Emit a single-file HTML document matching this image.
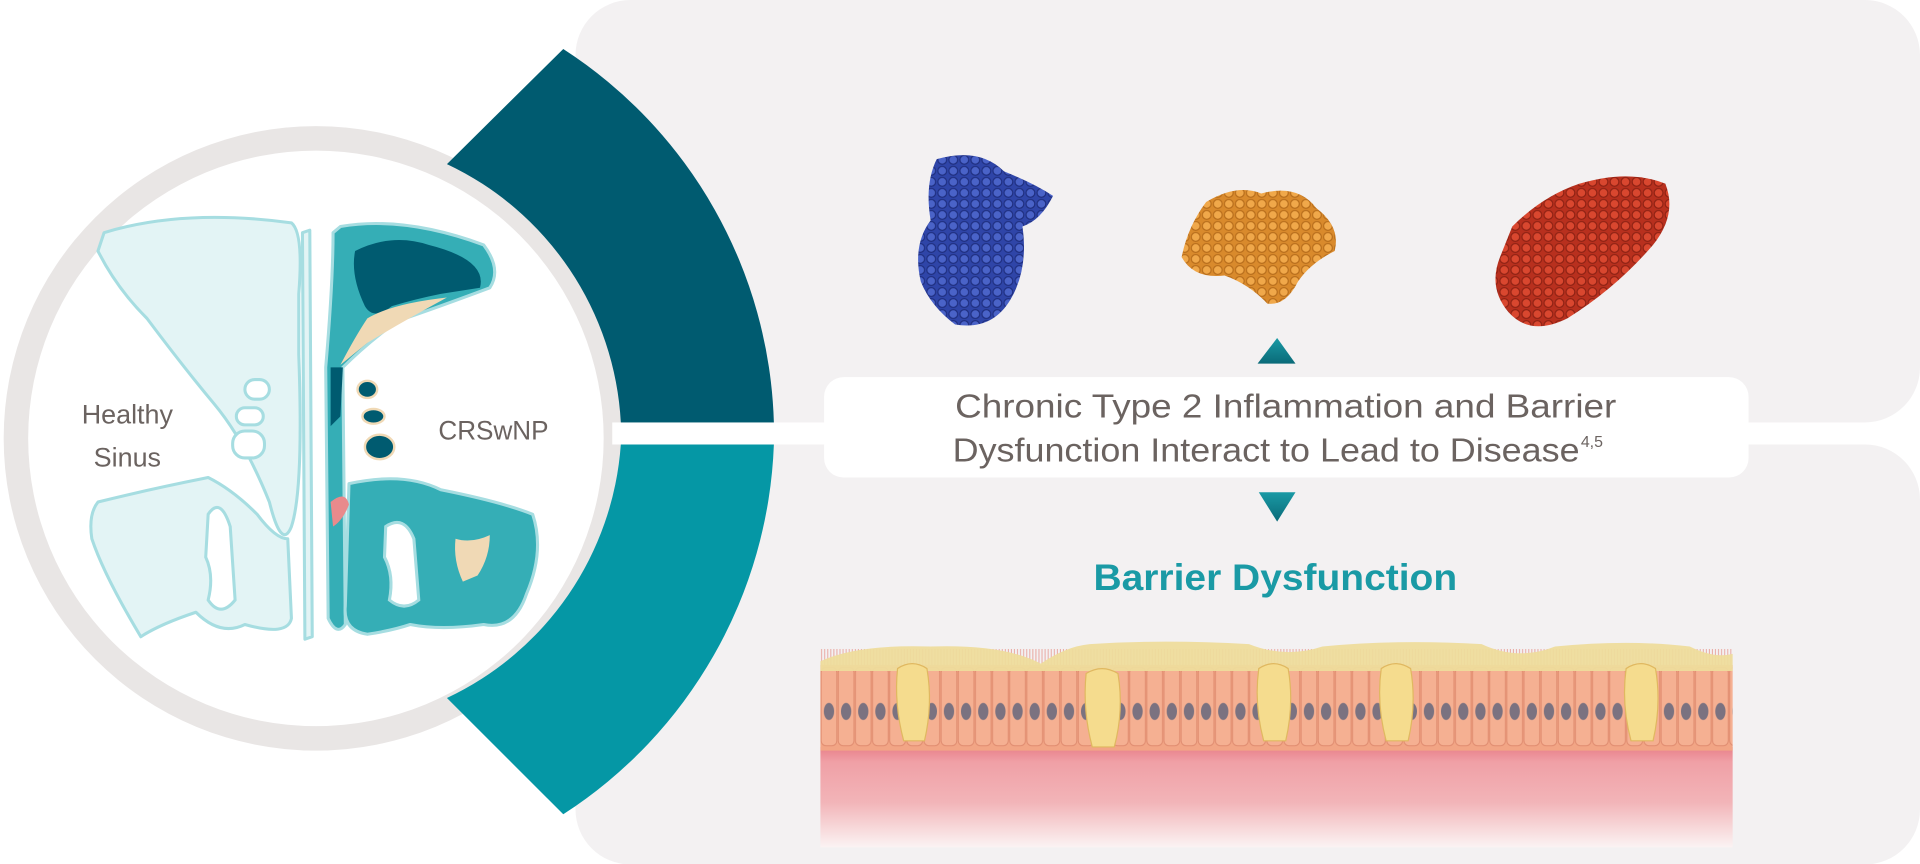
<!DOCTYPE html>
<html><head><meta charset="utf-8"><style>
html,body{margin:0;padding:0;background:#fff;width:1920px;height:864px;overflow:hidden}
svg{display:block}
text{font-family:"Liberation Sans",sans-serif}
</style></head><body>
<svg width="1920" height="864" viewBox="0 0 1568 705.6" xmlns="http://www.w3.org/2000/svg">
<defs>
<pattern id="pb" width="9" height="9" patternUnits="userSpaceOnUse"><rect width="9" height="9" fill="#2f45a8"/><circle cx="4.5" cy="4.5" r="3.6" fill="#4a63c8" stroke="#1f2f80" stroke-width="1"/></pattern>
<pattern id="po" width="9" height="9" patternUnits="userSpaceOnUse"><rect width="9" height="9" fill="#d98a2c"/><circle cx="4.5" cy="4.5" r="3.6" fill="#f0a84a" stroke="#b86e1c" stroke-width="1"/></pattern>
<pattern id="pr" width="9" height="9" patternUnits="userSpaceOnUse"><rect width="9" height="9" fill="#b8301e"/><circle cx="4.5" cy="4.5" r="3.6" fill="#d9472f" stroke="#8f2214" stroke-width="1"/></pattern>
<pattern id="cells" x="670" y="543" width="14" height="70" patternUnits="userSpaceOnUse"><rect width="14" height="70" fill="#f2a585"/><rect x="0.6" y="2" width="12.8" height="64" rx="4" fill="#f5b092" stroke="#e08c70" stroke-width="0.8"/><ellipse cx="7" cy="38" rx="4.2" ry="7" fill="#7b7280"/></pattern>
<pattern id="cil" width="2.5" height="10" patternUnits="userSpaceOnUse"><line x1="1" y1="0" x2="1" y2="10" stroke="#e9a7a0" stroke-width="0.8"/></pattern>
<linearGradient id="lp" x1="0" y1="0" x2="0" y2="1"><stop offset="0" stop-color="#e8808a"/><stop offset="0.15" stop-color="#f0a0a6"/><stop offset="0.55" stop-color="#f2b4b8"/><stop offset="1" stop-color="#fbf3f3"/></linearGradient>
<linearGradient id="tri" x1="0" y1="0" x2="0" y2="1"><stop offset="0" stop-color="#1a9aa5"/><stop offset="1" stop-color="#0a6a78"/></linearGradient>
</defs>
<rect x="470" y="0" width="1098" height="345" rx="45" fill="#f3f1f2"/>
<rect x="470" y="363" width="1098" height="343" rx="45" fill="#f3f1f2"/>
<circle cx="258" cy="358" r="255" fill="#e9e6e5"/>
<circle cx="258" cy="358" r="235" fill="#fff"/>
<path d="M460,40 A376,376 0 0 1 632,345 L507,345 A248,248 0 0 0 365,134 Z" fill="#005b70"/>
<path d="M632,363 A376,376 0 0 1 460,665 L365,570 A248,248 0 0 0 507,363 Z" fill="#0597a5"/>
<rect x="500" y="345" width="1068" height="18" fill="#fff"/>
<g fill="#e3f4f5" stroke="#a6dde1" stroke-width="2.5" stroke-linejoin="round">
<path d="M85,190 Q150,170 238,182 Q248,190 244,240 L244,290 Q248,400 238,430 Q230,450 220,410 Q200,360 175,330 Q150,300 120,260 Q95,235 80,205 Z"/>
<path d="M80,410 Q120,400 170,390 Q190,400 210,420 Q225,440 235,440 L238,505 Q235,520 200,510 Q180,520 160,500 Q130,510 115,520 Q85,470 75,440 Q72,420 80,410 Z"/>
<path d="M247,190 L253,188 L255,520 L249,522 Z"/>
</g>
<g fill="#fff" stroke="#a6dde1" stroke-width="2.5">
<path d="M170,420 Q180,405 188,430 L192,490 Q180,505 170,490 Q175,470 168,455 Z"/>
<rect x="200" y="310" width="20" height="16" rx="8"/>
<rect x="193" y="333" width="22" height="14" rx="7"/>
<rect x="190" y="352" width="26" height="22" rx="10"/>
</g>
<g stroke="#a6dde1" stroke-width="2.5" stroke-linejoin="round">
<path d="M278,185 Q330,176 395,200 Q410,220 400,235 Q360,250 325,262 Q300,280 280,300 L282,510 Q275,520 268,505 L266,300 Q272,230 272,190 Z" fill="#35aeb6"/>
<path d="M285,395 Q330,385 360,400 Q410,410 435,420 Q445,450 430,485 Q420,515 395,510 Q360,515 335,510 Q320,515 300,518 Q280,515 282,495 Z" fill="#35aeb6"/>
</g>
<path d="M290,205 Q320,190 350,200 Q398,212 392,235 L360,240 Q340,244 320,250 Q305,262 298,250 Q286,225 290,205 Z" fill="#005b70"/>
<path d="M300,260 Q320,248 365,243 Q330,262 300,280 L278,298 Q290,275 300,260 Z" fill="#f0d9b5"/>
<path d="M270,300 L280,300 L278,340 L270,348 Z" fill="#005b70"/>
<path d="M270,410 Q282,400 285,412 Q280,425 272,430 Z" fill="#e98a8c"/>
<path d="M372,440 Q385,444 400,437 Q400,455 390,470 L378,475 Q370,458 372,440 Z" fill="#f0d9b5"/>
<g fill="#fff" stroke="#a6dde1" stroke-width="2.5">
<path d="M315,430 Q330,420 338,440 L342,490 Q330,500 318,490 Q322,470 314,455 Z"/>
</g>
<g stroke="#f0d9b5" stroke-width="2">
<ellipse cx="300" cy="318" rx="8" ry="7" fill="#005b70"/>
<ellipse cx="305" cy="340" rx="9" ry="6" fill="#005b70"/>
<ellipse cx="310" cy="365" rx="12" ry="10" fill="#005b70"/>
</g>
<text x="104" y="346" font-size="22" fill="#6b6360" text-anchor="middle">Healthy</text>
<text x="104" y="381" font-size="22" fill="#6b6360" text-anchor="middle">Sinus</text>
<text x="358" y="359" font-size="22" fill="#6b6360" textLength="90" lengthAdjust="spacingAndGlyphs">CRSwNP</text>
<path d="M765,130 Q800,120 820,140 Q845,150 860,160 Q850,180 835,185 Q840,220 825,245 Q810,270 780,265 Q760,250 752,230 Q745,200 760,180 Q755,150 765,130 Z" fill="url(#pb)"/>
<path d="M985,165 Q1010,150 1030,158 Q1060,150 1075,170 Q1095,185 1090,205 Q1070,215 1060,230 Q1050,250 1035,248 Q1020,232 1000,225 Q975,228 965,210 Q970,185 985,165 Z" fill="url(#po)"/>
<path d="M1235,185 Q1260,160 1290,150 Q1330,138 1360,150 Q1370,175 1350,200 Q1320,235 1280,260 Q1250,275 1232,255 Q1215,235 1225,210 Z" fill="url(#pr)"/>
<path d="M1043,276 L1058,297 L1027,297 Z" fill="url(#tri)"/>
<path d="M1028,402 L1058,402 L1043,426 Z" fill="url(#tri)"/>
<rect x="673" y="308" width="755" height="82" rx="16" fill="#fff"/>
<text x="780" y="341" font-size="27" fill="#6b6360" textLength="540" lengthAdjust="spacingAndGlyphs">Chronic Type 2 Inflammation and Barrier</text>
<text x="778" y="377" font-size="27" fill="#6b6360" textLength="512" lengthAdjust="spacingAndGlyphs">Dysfunction Interact to Lead to Disease</text>
<text x="1291" y="365" font-size="13" fill="#6b6360">4,5</text>
<text x="893" y="482" font-size="30" font-weight="bold" fill="#1a9aa5" textLength="297" lengthAdjust="spacingAndGlyphs">Barrier Dysfunction</text>
<rect x="670" y="610" width="745" height="82" fill="url(#lp)"/>
<rect x="670" y="543" width="745" height="70" fill="url(#cells)"/>
<rect x="670" y="530" width="745" height="14" fill="url(#cil)"/>
<path d="M670,540 Q700,526 760,528 Q820,526 850,542 Q870,528 890,526 Q950,522 1020,526 Q1050,538 1080,528 Q1140,522 1210,526 Q1240,540 1270,528 Q1330,522 1380,528 Q1400,538 1415,534 L1415,548 L670,548 Z" fill="#eedc9c" opacity="0.95"/>
<g fill="#f5dc8e" stroke="#e0b860" stroke-width="1">
<path d="M733,546 Q745,538 757,546 Q762,575 755,605 L738,605 Q730,575 733,546 Z"/>
<path d="M887,550 Q900,542 913,550 Q918,580 910,610 L892,610 Q884,580 887,550 Z"/>
<path d="M1028,546 Q1040,538 1052,546 Q1057,575 1050,605 L1032,605 Q1024,575 1028,546 Z"/>
<path d="M1128,546 Q1140,538 1152,546 Q1157,575 1150,605 L1132,605 Q1124,575 1128,546 Z"/>
<path d="M1328,546 Q1340,538 1352,546 Q1357,575 1350,605 L1332,605 Q1324,575 1328,546 Z"/>
</g>
</svg>
</body></html>
